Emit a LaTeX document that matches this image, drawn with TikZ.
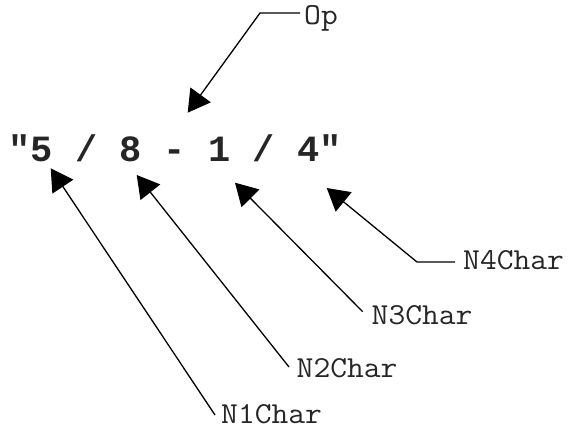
\documentclass[tikz,border=0pt]{standalone}
\usepackage{fontspec}
\setmonofont{Liberation Mono}
\newfontfamily\lblfont[FakeStretch=1.07]{Latin Modern Mono}
\usetikzlibrary{arrows.meta}
\begin{document}
\begin{tikzpicture}[x=1pt,y=-1pt,
  lbl/.style={font=\fontsize{30.5}{33}\selectfont\lblfont, inner sep=0pt, anchor=base west, text=black!85},
  expr/.style={font=\fontsize{37}{40}\selectfont\ttfamily\bfseries, inner sep=0pt, anchor=base, text=black!85},
  ptr/.style={line width=1.3pt, -{Triangle[length=22pt,width=25pt]}}]
\useasboundingbox (0,0) rectangle (569,428);
\node[expr] (str) at (175,161) {"5 / 8 - 1 / 4"};
\node[lbl] (op) at (304,24.5) {Op};
\node[lbl] (n4) at (463,269) {N4Char};
\node[lbl] (n3) at (371.5,324) {N3Char};
\node[lbl] (n2) at (296.5,377.5) {N2Char};
\node[lbl] (n1) at (221,423.5) {N1Char};
% tips
\coordinate (tOp) at (187.7,112.7);
\coordinate (t1) at (50.7,168.3);
\coordinate (t2) at (136.7,175);
\coordinate (t3) at (235,182.7);
\coordinate (t4) at (326.7,188);
% bends / ends
\coordinate (eOp) at (300,13);
\coordinate (bOp) at (260,13);
\coordinate (e4) at (455,262);
\coordinate (b4) at (417,262);
\coordinate (e3) at (362.7,311.7);
\coordinate (e2) at (289,367);
\coordinate (e1) at (215,415);
\draw[ptr] (eOp) -- (bOp) -- (tOp);
\draw[ptr] (e4) -- (b4) -- (t4);
\draw[ptr] (e3) -- (t3);
\draw[ptr] (e2) -- (t2);
\draw[ptr] (e1) -- (t1);
\end{tikzpicture}
\end{document}
